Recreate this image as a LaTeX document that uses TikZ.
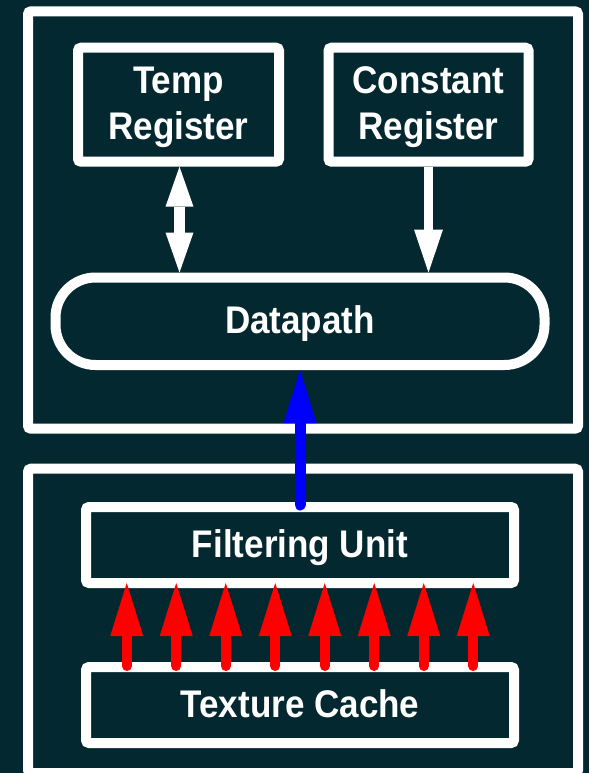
\documentclass[tikz,border=0pt]{standalone}
\usepackage{fontspec}
\setmainfont{Liberation Sans}
\usetikzlibrary{arrows.meta,calc}

\definecolor{board}{HTML}{042830}
\definecolor{busblue}{HTML}{0000FF}
\definecolor{busred}{HTML}{FF0000}

% block labels: bold sans, slightly condensed, set a little below centre
\newcommand{\blocktext}[1]{\raisebox{-3pt}[\height][\depth]{\scalebox{0.91}[1]{\begin{tabular}{@{}c@{}}#1\end{tabular}}}}

\tikzset{
  frame/.style={draw=white, line width=10pt, rounded corners=3pt, inner sep=0pt},
  block/.style={frame, text=white, font=\fontsize{38.5}{46}\selectfont\bfseries},
  pill/.style={block, rounded corners=40pt},
  whitebus/.style={draw=white, line width=#1},
  colbus/.style={line width=10pt, line cap=round},
}

\begin{document}
\begin{tikzpicture}[x=1pt, y=-1pt]
  \useasboundingbox (0,0) rectangle (589,773);
  \clip (0,0) rectangle (589,773);
  \fill[board] (0,0) rectangle (589,773);

  % enclosing frames
  \node[frame, minimum width=550pt, minimum height=417.4pt] (upper) at (303,220) {};
  \node[frame, minimum width=550pt, minimum height=304.3pt] (lower) at (303,620.85) {};

  % upper stage
  \node[block, minimum width=201pt, minimum height=114pt] (temp) at (178.5,104.7) {\blocktext{Temp\\Register}};
  \node[block, minimum width=200pt, minimum height=114pt] (const) at (428.5,104.7) {\blocktext{Constant\\Register}};
  \node[pill, minimum width=489pt, minimum height=87.5pt] (dp) at (300,321.25) {\blocktext{Datapath}};

  % lower stage
  \node[block, minimum width=428pt, minimum height=76pt] (fu) at (300,545) {\blocktext{Filtering Unit}};
  \node[block, minimum width=428pt, minimum height=76pt] (tc) at (300,705) {\blocktext{Texture Cache}};

  % register links
  \draw[whitebus=11pt, {Triangle[length=40pt,width=28pt,line width=0pt]}-{Triangle[length=40pt,width=28pt,line width=0pt]}]
    ([xshift=1pt]temp.south) -- ([xshift=1pt]temp.south |- dp.north);
  \draw[whitebus=9pt, -{Triangle[length=43pt,width=29pt,line width=0pt]}]
    (const.south) -- (const.south |- dp.north);

  % filtered sample to datapath
  \draw[colbus, busblue, line width=11pt, -{Triangle[length=53pt,width=33pt,line width=0pt]}]
    ([yshift=-3pt]fu.north) -- (dp.south);

  % texel fetch lanes
  \foreach \i in {0,...,7} {
    \draw[colbus, busred, -{Triangle[length=53pt,width=33pt,line width=0pt]}]
      ([xshift={(\i-3.5)*49.5pt}, yshift=-4pt]tc.north) -- ([xshift={(\i-3.5)*49.5pt}, yshift=5pt]fu.south);
  }
\end{tikzpicture}
\end{document}
